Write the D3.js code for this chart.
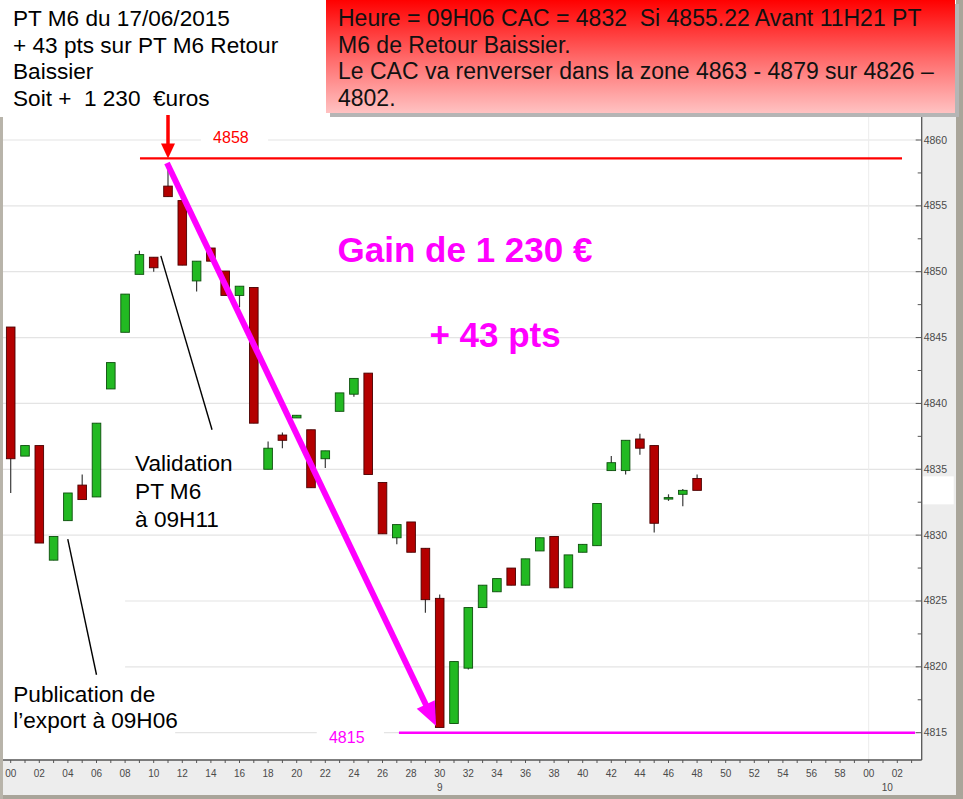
<!DOCTYPE html>
<html><head><meta charset="utf-8">
<script src="https://cdn.jsdelivr.net/npm/d3@7"></script>
<style>
body{margin:0;background:#fff;}
svg{display:block;font-family:Arial,"Liberation Sans",sans-serif;}
</style>
</head><body>
<svg id="c" width="963" height="799"></svg>
<script>
// ---- DATA (CAC 40, 1-minute candles from 09:00) ----
const minutes = d3.range(0, 49);
const opens  = [4845.8,4836.0,4836.8,4828.1,4831.1,4833.8,4832.9,4841.1,4845.4,4849.8,4851.1,4856.5,4855.4,4849.3,4851.8,4850.05,4848.2,4848.8,4835.0,4837.6,4838.9,4838.0,4835.8,4839.4,4840.7,4842.3,4834.0,4829.8,4831.0,4829.0,4825.2,4815.7,4819.9,4824.5,4825.7,4827.5,4826.2,4828.8,4829.9,4826.0,4828.7,4829.2,4834.9,4834.9,4837.3,4836.8,4832.8,4833.1,4834.3];
const highs  = [4845.8,4836.8,4836.8,4829.9,4833.2,4834.6,4838.5,4843.1,4848.3,4851.6,4851.1,4858.2,4855.4,4850.8,4851.8,4850.05,4848.9,4848.8,4837.1,4837.8,4839.1,4838.0,4836.4,4840.8,4841.9,4842.3,4834.0,4830.8,4831.0,4829.0,4825.5,4820.4,4824.5,4826.2,4826.7,4827.5,4828.2,4829.8,4829.9,4828.5,4829.3,4832.4,4836.0,4837.2,4837.7,4836.8,4833.1,4833.5,4834.6];
const lows   = [4833.2,4836.0,4829.4,4828.1,4831.1,4832.7,4832.9,4841.1,4845.4,4849.8,4850.0,4855.7,4850.5,4848.5,4850.8,4848.2,4847.3,4838.5,4835.0,4836.6,4838.9,4833.6,4835.1,4839.4,4840.5,4834.6,4830.1,4829.3,4828.7,4824.1,4815.4,4815.7,4819.8,4824.5,4825.7,4826.2,4826.2,4828.8,4826.0,4826.0,4828.7,4829.2,4834.9,4834.6,4836.1,4830.2,4832.6,4832.2,4833.4];
const closes = [4835.8,4836.8,4829.4,4829.9,4833.2,4832.7,4838.5,4843.1,4848.3,4851.3,4850.3,4855.7,4850.5,4850.8,4850.8,4848.2,4848.9,4838.5,4836.6,4837.2,4839.1,4833.6,4836.4,4840.8,4841.9,4834.6,4830.1,4830.8,4828.7,4825.1,4815.4,4820.4,4824.5,4826.2,4826.7,4826.2,4828.2,4829.8,4826.0,4828.5,4829.3,4832.4,4835.5,4837.2,4836.6,4830.9,4832.85,4833.4,4833.4];

const yTicks = [4815,4820,4825,4830,4835,4840,4845,4850,4855,4860];
const yMinorTicks = [4817.5,4822.5,4827.5,4832.5,4837.5,4842.5,4847.5,4852.5,4857.5];
const xTickMinutes = d3.range(0, 64);
const xLabelMinutes = d3.range(0, 63, 2);
const hourLabels = [{m:30, label:"9"}, {m:61.3, label:"10"}];

const resistance = 4858.6, resistanceLabel = "4858";
const support = 4815, supportLabel = "4815";
const entryMinute = 11, exitMinute = 29.75;
const entryPrice = 4858.25, exitPrice = 4815.5;

const leftBoxLines = ["PT M6 du 17/06/2015","+ 43 pts sur PT M6 Retour","Baissier","Soit +  1 230  \u20acuros"];
const redBoxLines = ["Heure = 09H06 CAC = 4832  Si 4855.22 Avant 11H21 PT","M6 de Retour Baissier.","Le CAC va renverser dans la zone 4863 - 4879 sur 4826 \u2013","4802."];
const gainText = "Gain de 1 230 \u20ac", ptsText = "+ 43 pts";
const validationLines = ["Validation","PT M6","\u00e0 09H11"];
const publicationLines = ["Publication de","l\u2019export \u00e0 09H06"];

// ---- LAYOUT ----
const svg = d3.select("#c");
const W = 963, H = 799;
const axisX = 921.7, axisY = 760, plotTop = 117;
const x = d3.scaleLinear().domain([0, 60]).range([10.7, 868.7]);
const y = d3.scaleLinear().domain([4815, 4860]).range([732.7, 140]);
const pad2 = v => String(v % 60).padStart(2, "0");
const FS = 22.6;

svg.append("rect").attr("width", W).attr("height", H).attr("fill", "#fff");

// gridlines
svg.append("g").selectAll("line").data(yTicks).join("line")
  .attr("x1", 3).attr("x2", axisX - 3)
  .attr("y1", d => y(d)).attr("y2", d => y(d))
  .attr("stroke", "#e4e4e4").attr("stroke-width", 1.2);
svg.append("line").attr("x1", x(60)).attr("x2", x(60)).attr("y1", plotTop).attr("y2", axisY)
  .attr("stroke", "#ececec").attr("stroke-width", 1);

// white background behind Publication text
svg.append("rect").attr("x", 3).attr("y", y(4825.6)).attr("width", x(8) - 3).attr("height", y(4812.8) - y(4825.6)).attr("fill", "#fff");
svg.append("rect").attr("x", 3).attr("y", y(4816.2)).attr("width", x(11.5) - 3).attr("height", y(4812.8) - y(4816.2)).attr("fill", "#fff");

// resistance line
svg.append("line").attr("x1", x(9.04)).attr("x2", x(62.33))
  .attr("y1", y(resistance)).attr("y2", y(resistance))
  .attr("stroke", "#ff0000").attr("stroke-width", 2.2);
svg.append("rect").attr("x", x(13.3)).attr("y", y(4861.3)).attr("width", x(18) - x(13.3)).attr("height", y(4859.1) - y(4861.3)).attr("fill", "#fff");
svg.append("text").attr("x", x(15.4)).attr("y", y(4859.8)).attr("text-anchor", "middle")
  .attr("font-size", 16).attr("fill", "#ff0000").text(resistanceLabel);

// support line
svg.append("rect").attr("x", x(21.4)).attr("y", y(4815.9)).attr("width", x(26.1) - x(21.4)).attr("height", y(4813.5) - y(4815.9)).attr("fill", "#fff");
svg.append("line").attr("x1", x(27.15)).attr("x2", x(63.24))
  .attr("y1", y(support)).attr("y2", y(support))
  .attr("stroke", "#ff00ff").attr("stroke-width", 2.4);
svg.append("text").attr("x", x(23.5)).attr("y", y(4814.2)).attr("text-anchor", "middle")
  .attr("font-size", 16).attr("fill", "#ff00ff").text(supportLabel);

// candles
const candles = minutes.map((m, i) => ({m, o: opens[i], h: highs[i], l: lows[i], c: closes[i]}));
const bw = 8.6;
const cg = svg.append("g");
cg.selectAll("line").data(candles).join("line")
  .attr("x1", d => x(d.m)).attr("x2", d => x(d.m))
  .attr("y1", d => y(d.h)).attr("y2", d => y(d.l))
  .attr("stroke", "#3a3a3a").attr("stroke-width", 1.2);
cg.selectAll("rect").data(candles).join("rect")
  .attr("x", d => x(d.m) - bw / 2).attr("width", bw)
  .attr("y", d => y(Math.max(d.o, d.c)))
  .attr("height", d => Math.max(1.5, Math.abs(y(d.o) - y(d.c))))
  .attr("fill", d => d.c >= d.o ? "#22b922" : "#b40000")
  .attr("stroke", d => d.c >= d.o ? "#0c4f0c" : "#4a0000")
  .attr("stroke-width", 0.9);

// pointer lines
svg.append("line").attr("x1", x(10.5)).attr("y1", y(4851.2)).attr("x2", x(14.08)).attr("y2", y(4838.0))
  .attr("stroke", "#000").attr("stroke-width", 1.4);
svg.append("line").attr("x1", x(3.99)).attr("y1", y(4829.7)).attr("x2", x(6.0)).attr("y2", y(4819.4))
  .attr("stroke", "#000").attr("stroke-width", 1.4);

// magenta arrow
{
  const x1 = x(entryMinute - 0.07), y1 = y(entryPrice), x2 = x(exitMinute), y2 = y(exitPrice);
  const dx = x2 - x1, dy = y2 - y1, len = Math.hypot(dx, dy), ux = dx / len, uy = dy / len;
  const headL = 24, headW = 10;
  const bx = x2 - ux * headL, by = y2 - uy * headL;
  svg.append("line").attr("x1", x1).attr("y1", y1).attr("x2", bx + ux * 2).attr("y2", by + uy * 2)
    .attr("stroke", "#ff00ff").attr("stroke-width", 6);
  svg.append("path").attr("d", `M${x2},${y2}L${bx - uy * headW},${by + ux * headW}L${bx + uy * headW},${by - ux * headW}Z`)
    .attr("fill", "#ff00ff");
}

// texts in plot
svg.append("text").attr("x", x(31.77)).attr("y", y(4850.76)).attr("text-anchor", "middle")
  .attr("font-size", 35).attr("font-weight", "bold").attr("fill", "#ff00ff").text(gainText);
svg.append("text").attr("x", x(33.87)).attr("y", y(4844.3)).attr("text-anchor", "middle")
  .attr("font-size", 35).attr("font-weight", "bold").attr("fill", "#ff00ff").text(ptsText);
const vBase = [4834.87, 4832.72, 4830.64];
svg.append("g").selectAll("text").data(validationLines).join("text")
  .attr("x", x(8.7)).attr("y", (d, i) => y(vBase[i])).attr("font-size", FS).attr("fill", "#000").text(d => d);
const pBase = [4817.35, 4815.33];
svg.append("g").selectAll("text").data(publicationLines).join("text")
  .attr("x", x(0.18)).attr("y", (d, i) => y(pBase[i])).attr("font-size", FS).attr("fill", "#000").text(d => d);

// ---- axes panels ----
svg.append("rect").attr("x", axisX).attr("y", plotTop).attr("width", 956 - axisX).attr("height", axisY - plotTop).attr("fill", "#ededed");
svg.append("rect").attr("x", 0).attr("y", axisY).attr("width", 956).attr("height", 795 - axisY).attr("fill", "#ededed");
// last price label box
svg.append("rect").attr("x", axisX + 1).attr("y", y(closes[closes.length - 1]) - 14).attr("width", 31).attr("height", 28).attr("fill", "#fff");

// y axis
svg.append("line").attr("x1", axisX).attr("x2", axisX).attr("y1", plotTop).attr("y2", axisY).attr("stroke", "#555").attr("stroke-width", 1.3);
svg.append("g").selectAll("line").data(yTicks).join("line")
  .attr("x1", axisX - 6).attr("x2", axisX).attr("y1", d => y(d)).attr("y2", d => y(d)).attr("stroke", "#555");
svg.append("g").selectAll("line").data(yMinorTicks).join("line")
  .attr("x1", axisX - 4).attr("x2", axisX).attr("y1", d => y(d)).attr("y2", d => y(d)).attr("stroke", "#555");
svg.append("g").selectAll("text").data(yTicks).join("text")
  .attr("x", axisX + 2).attr("y", d => y(d) + 3.5).attr("font-size", 10.5).attr("fill", "#4a4a4a").text(d => d);

// x axis
svg.append("line").attr("x1", 0).attr("x2", axisX).attr("y1", axisY).attr("y2", axisY).attr("stroke", "#555").attr("stroke-width", 1.3);
svg.append("g").selectAll("line").data(xTickMinutes).join("line")
  .attr("x1", d => x(d)).attr("x2", d => x(d)).attr("y1", axisY).attr("y2", axisY + 3).attr("stroke", "#555");
svg.append("g").selectAll("text").data(xLabelMinutes).join("text")
  .attr("x", d => x(d)).attr("y", 777).attr("text-anchor", "middle").attr("font-size", 10).attr("fill", "#4a4a4a").text(d => pad2(d));
svg.append("g").selectAll("text").data(hourLabels).join("text")
  .attr("x", d => x(d.m)).attr("y", 791).attr("text-anchor", "middle").attr("font-size", 10).attr("fill", "#4a4a4a").text(d => d.label);

// frame borders
svg.append("rect").attr("x", 956).attr("y", 0).attr("width", 7).attr("height", H).attr("fill", "#a9a59a");
svg.append("rect").attr("x", 0).attr("y", 795).attr("width", W).attr("height", 4).attr("fill", "#a9a59a");
svg.append("rect").attr("x", 0).attr("y", plotTop).attr("width", 3).attr("height", H - plotTop).attr("fill", "#b8b4aa");

// ---- top boxes ----
const defs = svg.append("defs");
const grad = defs.append("linearGradient").attr("id", "rg").attr("x1", 0).attr("y1", 0).attr("x2", 0).attr("y2", 1);
grad.append("stop").attr("offset", 0).attr("stop-color", "#ff0000");
grad.append("stop").attr("offset", 0.55).attr("stop-color", "#ff7070");
grad.append("stop").attr("offset", 1).attr("stop-color", "#ffc2c2");

svg.append("rect").attr("x", 0).attr("y", 0).attr("width", 326).attr("height", plotTop).attr("fill", "#fff");
svg.append("g").selectAll("text").data(leftBoxLines).join("text")
  .attr("x", 13).attr("y", (d, i) => 26 + i * 26.7).attr("font-size", FS).attr("fill", "#000")
  .style("white-space", "pre").text(d => d);

svg.append("rect").attr("x", 330).attr("y", 4).attr("width", 629).attr("height", 113).attr("fill", "#b5b5b5");
svg.append("rect").attr("x", 326).attr("y", 0).attr("width", 629).attr("height", 113).attr("fill", "url(#rg)");
svg.append("g").selectAll("text").data(redBoxLines).join("text")
  .attr("x", 338).attr("y", (d, i) => 26 + i * 26.7).attr("font-size", 23).attr("fill", "#111")
  .style("white-space", "pre").text(d => d);

// red arrow (entry signal)
{
  const ax = x(entryMinute), yTop = y(4861.9), yTip = y(resistance);
  svg.append("line").attr("x1", ax).attr("x2", ax).attr("y1", yTop).attr("y2", yTip - 12)
    .attr("stroke", "#ff0000").attr("stroke-width", 3.5);
  svg.append("path").attr("d", `M${ax - 7},${yTip - 15}L${ax + 7},${yTip - 15}L${ax},${yTip}Z`).attr("fill", "#ff0000");
}
</script>
</body></html>
